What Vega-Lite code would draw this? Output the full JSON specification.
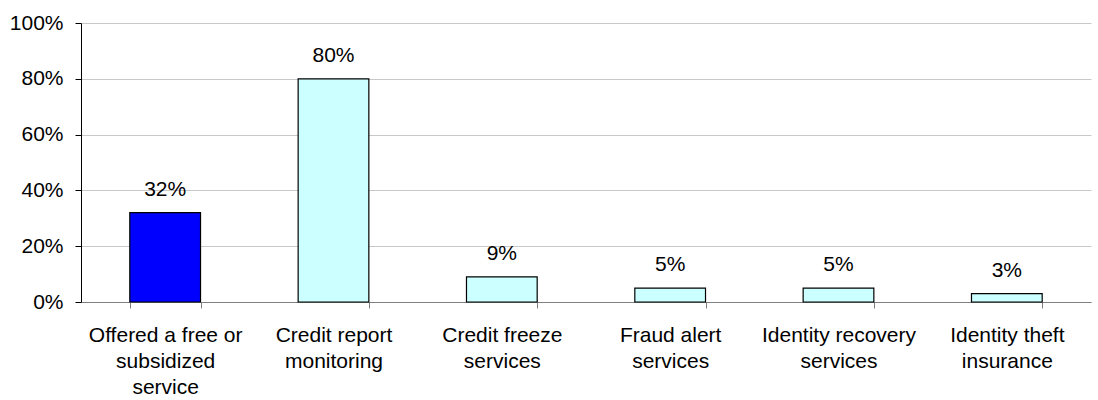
{
  "$schema": "https://vega.github.io/schema/vega-lite/v6.json",
  "width": 1010,
  "height": 279,
  "autosize": {"type": "none"},
  "padding": {"left": 81, "top": 23, "right": 7, "bottom": 98},
  "background": "white",
  "config": {"view": {"stroke": null}, "font": "Liberation Sans"},
  "data": {"values": [
    {"category": "Offered a free or|subsidized|service", "value": 0.32, "group": "main"},
    {"category": "Credit report|monitoring", "value": 0.80, "group": "sub"},
    {"category": "Credit freeze|services", "value": 0.09, "group": "sub"},
    {"category": "Fraud alert|services", "value": 0.05, "group": "sub"},
    {"category": "Identity recovery|services", "value": 0.05, "group": "sub"},
    {"category": "Identity theft|insurance", "value": 0.03, "group": "sub"}
  ]},
  "encoding": {
    "x": {"field": "category", "type": "nominal", "sort": null,
      "scale": {"paddingInner": 0.58, "paddingOuter": 0.29},
      "axis": {"title": null, "labelAngle": 0, "labelExpr": "split(datum.label, '|')",
        "labelFontSize": 21, "labelColor": "black", "labelLineHeight": 26, "labelPadding": 16,
        "tickBand": "extent", "tickColor": "#808080", "tickSize": 6, "domainColor": "#808080",
        "labelFont": "Liberation Sans", "labelBaseline": "top"}},
    "y": {"field": "value", "type": "quantitative",
      "scale": {"domain": [0, 1]},
      "axis": {"title": null, "format": ".0%", "values": [0, 0.2, 0.4, 0.6, 0.8, 1],
        "labelFontSize": 21, "labelColor": "black", "labelFont": "Liberation Sans",
        "domainColor": "black", "tickColor": "black", "tickSize": 6, "labelPadding": 12,
        "grid": true, "gridColor": "#c8c8c8"}}
  },
  "layer": [
    {"mark": {"type": "bar", "stroke": "black", "strokeWidth": 1.2},
      "encoding": {"color": {"field": "group", "type": "nominal",
        "scale": {"domain": ["main", "sub"], "range": ["#0000FF", "#CCFFFF"]}, "legend": null}}},
    {"mark": {"type": "text", "dy": -13, "baseline": "bottom", "fontSize": 21, "color": "black", "font": "Liberation Sans"},
      "encoding": {"text": {"field": "value", "type": "quantitative", "format": ".0%"}}}
  ]
}
